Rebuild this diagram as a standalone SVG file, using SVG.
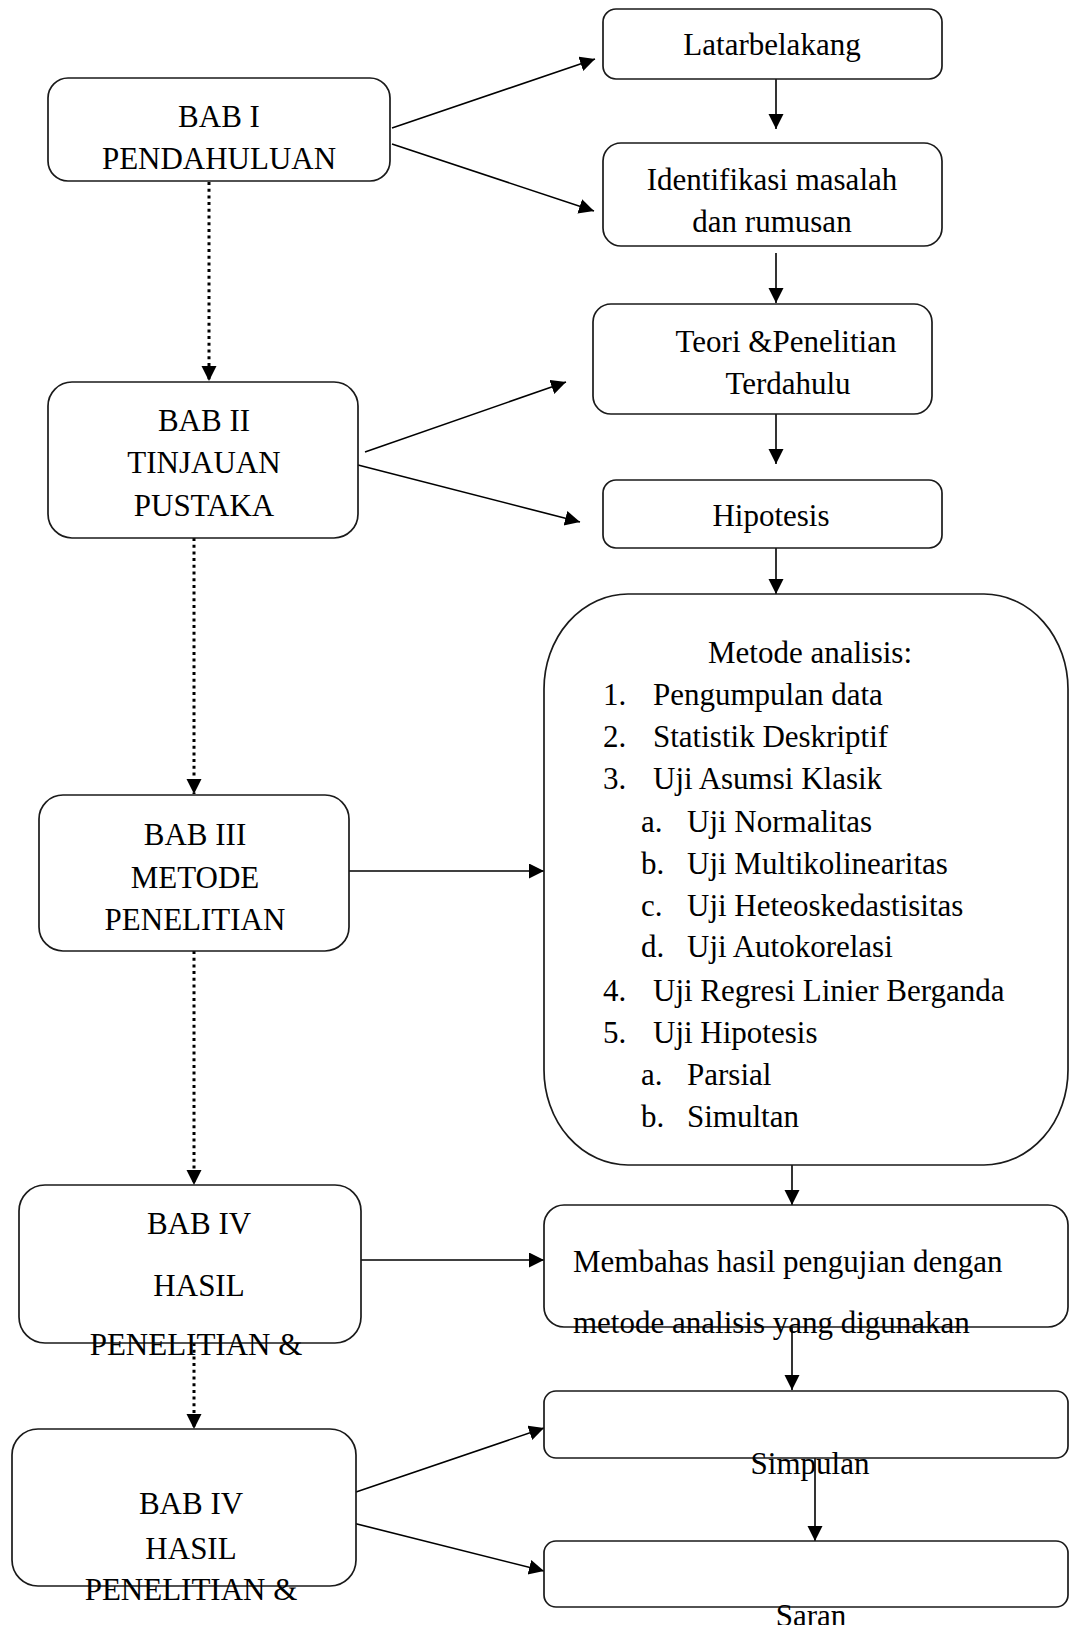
<svg xmlns="http://www.w3.org/2000/svg" width="1069" height="1625" viewBox="0 0 1069 1625">
<defs>
<marker id="ah" markerUnits="userSpaceOnUse" markerWidth="16" markerHeight="16" refX="15" refY="7.5" orient="auto">
<path d="M0,0 L15,7.5 L0,15 z" fill="#000"/>
</marker>
<style>
.box{fill:#fff;stroke:#1a1a1a;stroke-width:1.7}
.t{font-family:"Liberation Serif","Times New Roman",serif;font-size:31px;fill:#000}
.c{text-anchor:middle}
.ln{stroke:#000;stroke-width:1.6;fill:none;marker-end:url(#ah)}
.dt{stroke:#000;stroke-width:3;stroke-dasharray:3 3.7;fill:none;marker-end:url(#ah)}
</style>
</defs>
<rect width="1069" height="1625" fill="#fff"/>

<g id="connectors">
<line class="ln" x1="392" y1="128" x2="595" y2="59"/>
<line class="ln" x1="392" y1="144" x2="594" y2="211"/>
<line class="ln" x1="776" y1="79" x2="776" y2="129"/>
<line class="ln" x1="776" y1="253" x2="776" y2="303"/>
<line class="ln" x1="776" y1="414" x2="776" y2="464"/>
<line class="ln" x1="776" y1="548" x2="776" y2="594"/>
<line class="dt" x1="209" y1="182" x2="209" y2="381"/>
<line class="ln" x1="365" y1="452" x2="566" y2="382"/>
<line class="ln" x1="358" y1="465" x2="580" y2="522"/>
<line class="dt" x1="194" y1="538" x2="194" y2="794"/>
<line class="ln" x1="349" y1="871" x2="544" y2="871"/>
<line class="dt" x1="194" y1="951" x2="194" y2="1185"/>
<line class="ln" x1="792" y1="1165" x2="792" y2="1205"/>
<line class="ln" x1="361" y1="1260" x2="544" y2="1260"/>
<line class="ln" x1="792" y1="1327" x2="792" y2="1390"/>
<line class="dt" x1="194" y1="1343" x2="194" y2="1429"/>
<line class="ln" x1="356" y1="1492" x2="544" y2="1428"/>
<line class="ln" x1="349" y1="1522" x2="544" y2="1571"/>
<line class="ln" x1="815" y1="1457" x2="815" y2="1541"/>
</g>

<g id="bab1">
<rect class="box" x="48" y="78" width="342" height="103" rx="20"/>
<text class="t c" x="219" y="127">BAB I</text>
<text class="t c" x="219" y="169">PENDAHULUAN</text>
</g>

<g id="latar">
<rect class="box" x="603" y="9" width="339" height="70" rx="13"/>
<text class="t c" x="772" y="55">Latarbelakang</text>
</g>

<g id="identifikasi">
<rect class="box" x="603" y="143" width="339" height="103" rx="18"/>
<text class="t c" x="772" y="190">Identifikasi masalah</text>
<text class="t c" x="772" y="232">dan rumusan</text>
</g>

<g id="teori">
<rect class="box" x="593" y="304" width="339" height="110" rx="18"/>
<text class="t c" x="786" y="352">Teori &amp;Penelitian</text>
<text class="t c" x="788" y="394">Terdahulu</text>
</g>

<g id="hipotesis">
<rect class="box" x="603" y="480" width="339" height="68" rx="13"/>
<text class="t c" x="771" y="526">Hipotesis</text>
</g>

<g id="bab2">
<rect class="box" x="48" y="382" width="310" height="156" rx="24"/>
<text class="t c" x="204" y="431">BAB II</text>
<text class="t c" x="204" y="473">TINJAUAN</text>
<text class="t c" x="204" y="516">PUSTAKA</text>
</g>

<g id="metode">
<rect class="box" x="544" y="594" width="524" height="571" rx="84" ry="95"/>
<text class="t c" x="810" y="663">Metode analisis:</text>
<text class="t" x="603" y="705">1.</text><text class="t" x="653" y="705">Pengumpulan data</text>
<text class="t" x="603" y="747">2.</text><text class="t" x="653" y="747">Statistik Deskriptif</text>
<text class="t" x="603" y="789">3.</text><text class="t" x="653" y="789">Uji Asumsi Klasik</text>
<text class="t" x="641" y="832">a.</text><text class="t" x="687" y="832">Uji Normalitas</text>
<text class="t" x="641" y="874">b.</text><text class="t" x="687" y="874">Uji Multikolinearitas</text>
<text class="t" x="641" y="916">c.</text><text class="t" x="687" y="916">Uji Heteoskedastisitas</text>
<text class="t" x="641" y="957">d.</text><text class="t" x="687" y="957">Uji Autokorelasi</text>
<text class="t" x="603" y="1001">4.</text><text class="t" x="653" y="1001">Uji Regresi Linier Berganda</text>
<text class="t" x="603" y="1043">5.</text><text class="t" x="653" y="1043">Uji Hipotesis</text>
<text class="t" x="641" y="1085">a.</text><text class="t" x="687" y="1085">Parsial</text>
<text class="t" x="641" y="1127">b.</text><text class="t" x="687" y="1127">Simultan</text>
</g>

<g id="bab3">
<rect class="box" x="39" y="795" width="310" height="156" rx="24"/>
<text class="t c" x="195" y="845">BAB III</text>
<text class="t c" x="195" y="888">METODE</text>
<text class="t c" x="195" y="930">PENELITIAN</text>
</g>

<g id="bab4a">
<rect class="box" x="19" y="1185" width="342" height="158" rx="26"/>
<text class="t c" x="199" y="1234">BAB IV</text>
<text class="t c" x="199" y="1296">HASIL</text>
<text class="t c" x="196" y="1355">PENELITIAN &amp;</text>
</g>

<g id="membahas">
<rect class="box" x="544" y="1205" width="524" height="122" rx="20"/>
<text class="t" x="573" y="1272">Membahas hasil pengujian dengan</text>
<text class="t" x="573" y="1333">metode analisis yang digunakan</text>
</g>

<g id="simpulan">
<rect class="box" x="544" y="1391" width="524" height="67" rx="12"/>
<text class="t c" x="810" y="1474">Simpulan</text>
</g>

<g id="bab4b">
<rect class="box" x="12" y="1429" width="344" height="157" rx="26"/>
<text class="t c" x="191" y="1514">BAB IV</text>
<text class="t c" x="191" y="1559">HASIL</text>
<text class="t c" x="191" y="1600">PENELITIAN &amp;</text>
</g>

<g id="saran">
<rect class="box" x="544" y="1541" width="524" height="66" rx="12"/>
<text class="t c" x="811" y="1626">Saran</text>
</g>
</svg>
